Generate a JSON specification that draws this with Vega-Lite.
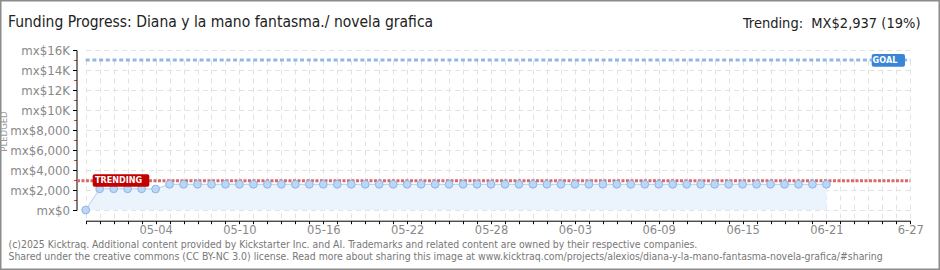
{
  "$schema": "https://vega.github.io/schema/vega-lite/v6.json",
  "width": 940,
  "height": 270,
  "autosize": {"type": "none"},
  "padding": 0,
  "background": "white",
  "config": {"view": {"stroke": "#8c8c8c", "strokeWidth": 3}},
  "title": {
    "text": "Funding Progress: Diana y la mano fantasma./ novela grafica",
    "anchor": "start",
    "frame": "group",
    "orient": "top",
    "offset": -27.5,
    "dx": 8,
    "dy": 15,
    "baseline": "alphabetic",
    "font": "DejaVu Sans Condensed",
    "fontSize": 15.5,
    "fontWeight": "normal",
    "color": "#222222"
  },
  "datasets": {
    "pledges": [
      {"date": "2025-04-29T00:00:00", "pledged": 0},
      {"date": "2025-04-30T00:00:00", "pledged": 2120},
      {"date": "2025-05-01T00:00:00", "pledged": 2120},
      {"date": "2025-05-02T00:00:00", "pledged": 2120},
      {"date": "2025-05-03T00:00:00", "pledged": 2120},
      {"date": "2025-05-04T00:00:00", "pledged": 2100},
      {"date": "2025-05-05T00:00:00", "pledged": 2570},
      {"date": "2025-05-06T00:00:00", "pledged": 2570},
      {"date": "2025-05-07T00:00:00", "pledged": 2570},
      {"date": "2025-05-08T00:00:00", "pledged": 2570},
      {"date": "2025-05-09T00:00:00", "pledged": 2570},
      {"date": "2025-05-10T00:00:00", "pledged": 2570},
      {"date": "2025-05-11T00:00:00", "pledged": 2570},
      {"date": "2025-05-12T00:00:00", "pledged": 2570},
      {"date": "2025-05-13T00:00:00", "pledged": 2570},
      {"date": "2025-05-14T00:00:00", "pledged": 2570},
      {"date": "2025-05-15T00:00:00", "pledged": 2570},
      {"date": "2025-05-16T00:00:00", "pledged": 2570},
      {"date": "2025-05-17T00:00:00", "pledged": 2570},
      {"date": "2025-05-18T00:00:00", "pledged": 2570},
      {"date": "2025-05-19T00:00:00", "pledged": 2570},
      {"date": "2025-05-20T00:00:00", "pledged": 2570},
      {"date": "2025-05-21T00:00:00", "pledged": 2570},
      {"date": "2025-05-22T00:00:00", "pledged": 2570},
      {"date": "2025-05-23T00:00:00", "pledged": 2570},
      {"date": "2025-05-24T00:00:00", "pledged": 2570},
      {"date": "2025-05-25T00:00:00", "pledged": 2570},
      {"date": "2025-05-26T00:00:00", "pledged": 2570},
      {"date": "2025-05-27T00:00:00", "pledged": 2570},
      {"date": "2025-05-28T00:00:00", "pledged": 2570},
      {"date": "2025-05-29T00:00:00", "pledged": 2570},
      {"date": "2025-05-30T00:00:00", "pledged": 2570},
      {"date": "2025-05-31T00:00:00", "pledged": 2570},
      {"date": "2025-06-01T00:00:00", "pledged": 2570},
      {"date": "2025-06-02T00:00:00", "pledged": 2570},
      {"date": "2025-06-03T00:00:00", "pledged": 2570},
      {"date": "2025-06-04T00:00:00", "pledged": 2570},
      {"date": "2025-06-05T00:00:00", "pledged": 2570},
      {"date": "2025-06-06T00:00:00", "pledged": 2570},
      {"date": "2025-06-07T00:00:00", "pledged": 2570},
      {"date": "2025-06-08T00:00:00", "pledged": 2570},
      {"date": "2025-06-09T00:00:00", "pledged": 2570},
      {"date": "2025-06-10T00:00:00", "pledged": 2570},
      {"date": "2025-06-11T00:00:00", "pledged": 2570},
      {"date": "2025-06-12T00:00:00", "pledged": 2570},
      {"date": "2025-06-13T00:00:00", "pledged": 2570},
      {"date": "2025-06-14T00:00:00", "pledged": 2570},
      {"date": "2025-06-15T00:00:00", "pledged": 2570},
      {"date": "2025-06-16T00:00:00", "pledged": 2570},
      {"date": "2025-06-17T00:00:00", "pledged": 2570},
      {"date": "2025-06-18T00:00:00", "pledged": 2570},
      {"date": "2025-06-19T00:00:00", "pledged": 2570},
      {"date": "2025-06-20T00:00:00", "pledged": 2570},
      {"date": "2025-06-21T00:00:00", "pledged": 2570}
    ],
    "refs": [
      {"label": "GOAL", "amount": 15000},
      {"label": "TRENDING", "amount": 2937}
    ]
  },
  "resolve": {"axis": {"x": "independent", "y": "independent"}},
  "layer": [
    {
      "data": {"name": "pledges"},
      "mark": {"type": "area", "color": "#ebf3fd", "opacity": 1},
      "encoding": {
        "x": {
          "field": "date",
          "type": "temporal",
          "scale": {
            "domain": [{"year": 2025, "month": 4, "date": 29}, {"year": 2025, "month": 6, "date": 27}],
            "range": [85.7, 910.3],
            "nice": false
          },
          "axis": {
            "orient": "bottom",
            "offset": -49.3,
            "tickCount": {"interval": "day", "step": 1},
            "labelExpr": "(round((datum.value - datetime(2025, 3, 29)) / 86400000) + 1) % 6 == 0 ? (month(datum.value) == 5 && date(datum.value) == 27 ? '6-27' : timeFormat(datum.value, '%m-%d')) : ''",
            "labelOverlap": false,
            "labelFlush": false,
            "labelFont": "DejaVu Sans",
            "labelFontSize": 11.5,
            "labelColor": "#888888",
            "labelPadding": 1,
            "labelBaseline": "top",
            "tickColor": "#000000",
            "tickSize": 3,
            "domainColor": "#000000",
            "grid": true,
            "gridColor": "#e2e2e2",
            "gridDash": [5, 4],
            "title": [
              "(c)2025 Kicktraq. Additional content provided by Kickstarter Inc. and AI. Trademarks and related content are owned by their respective companies.",
              "Shared under the creative commons (CC BY-NC 3.0) license. Read more about sharing this image at www.kicktraq.com/projects/alexios/diana-y-la-mano-fantasma-novela-grafica/#sharing"
            ],
            "titleAnchor": "start",
            "titleAlign": "left",
            "titleX": 8,
            "titleY": 26.3,
            "titleBaseline": "alphabetic",
            "titleFont": "DejaVu Sans Condensed",
            "titleFontSize": 10.4,
            "titleFontWeight": "normal",
            "titleColor": "#777777",
            "titleLineHeight": 12.5
          }
        },
        "y": {
          "field": "pledged",
          "type": "quantitative",
          "scale": {"domain": [0, 16000], "range": [210, 50], "nice": false, "zero": true},
          "axis": {
            "orient": "left",
            "offset": -76.5,
            "values": [0, 1000, 2000, 3000, 4000, 5000, 6000, 7000, 8000, 9000, 10000, 11000, 12000, 13000, 14000, 15000, 16000],
            "labelExpr": "datum.value % 2000 != 0 ? '' : (datum.value >= 10000 ? 'mx$' + (datum.value / 1000) + 'K' : 'mx$' + format(datum.value, ','))",
            "labelOverlap": false,
            "labelFont": "DejaVu Sans",
            "labelFontSize": 11.8,
            "labelColor": "#888888",
            "labelPadding": 3,
            "tickColor": {"condition": {"test": "datum.value % 2000 != 0", "value": "#e23a3a"}, "value": "#000000"},
            "tickSize": {"condition": {"test": "datum.value % 2000 != 0", "value": 3}, "value": 4},
            "domainColor": "#000000",
            "grid": true,
            "gridColor": "#e2e2e2",
            "gridDash": [5, 4],
            "gridOpacity": {"condition": {"test": "datum.value % 2000 != 0", "value": 0}, "value": 1},
            "title": "PLEDGED",
            "titleX": -72.7,
            "titleY": 131,
            "titleAngle": -90,
            "titleAlign": "center",
            "titleBaseline": "middle",
            "titleFont": "DejaVu Sans",
            "titleFontSize": 8.5,
            "titleFontWeight": "normal",
            "titleColor": "#999999"
          }
        }
      }
    },
    {
      "data": {"name": "pledges"},
      "mark": {"type": "line", "color": "#b3cff0", "strokeWidth": 1},
      "encoding": {
        "x": {"field": "date", "type": "temporal", "axis": null},
        "y": {"field": "pledged", "type": "quantitative", "axis": null}
      }
    },
    {
      "data": {"name": "refs"},
      "transform": [{"filter": "datum.label == 'GOAL'"}],
      "mark": {"type": "rule", "color": "#93b7e2", "strokeWidth": 3, "strokeDash": [4, 2.7]},
      "encoding": {
        "x": {"datum": {"year": 2025, "month": 4, "date": 29}, "type": "temporal", "axis": null},
        "x2": {"datum": {"year": 2025, "month": 6, "date": 27}},
        "y": {"field": "amount", "type": "quantitative", "axis": null}
      }
    },
    {
      "data": {"name": "refs"},
      "transform": [{"filter": "datum.label == 'TRENDING'"}],
      "mark": {"type": "rule", "color": "#d8696b", "strokeWidth": 3, "strokeDash": [3, 1.5]},
      "encoding": {
        "x": {"datum": {"year": 2025, "month": 4, "date": 28, "hours": 9}, "type": "temporal", "axis": null},
        "x2": {"datum": {"year": 2025, "month": 6, "date": 27}},
        "y": {"field": "amount", "type": "quantitative", "axis": null}
      }
    },
    {
      "data": {"name": "pledges"},
      "mark": {"type": "point", "shape": "circle", "filled": true, "fill": "#bcd6f5", "stroke": "#8eb4e2", "strokeWidth": 1, "size": 60, "opacity": 1},
      "encoding": {
        "x": {
          "field": "date",
          "type": "temporal",
          "axis": {
            "orient": "top",
            "domain": false,
            "ticks": false,
            "labels": false,
            "grid": false,
            "title": "Trending:\u00a0\u00a0MX$2,937 (19%)",
            "titleAnchor": "end",
            "titleAlign": "right",
            "titleX": 920,
            "titleY": 27.5,
            "titleBaseline": "alphabetic",
            "titleFont": "DejaVu Sans Condensed",
            "titleFontSize": 14.5,
            "titleFontWeight": "normal",
            "titleColor": "#222222"
          }
        },
        "y": {"field": "pledged", "type": "quantitative", "axis": null}
      }
    },
    {
      "data": {"name": "refs"},
      "transform": [{"filter": "datum.label == 'GOAL'"}],
      "mark": {"type": "rect", "color": "#3a86d6", "cornerRadius": 2},
      "encoding": {
        "x": {"datum": {"year": 2025, "month": 6, "date": 24, "hours": 5, "minutes": 45}, "type": "temporal", "axis": null},
        "x2": {"datum": {"year": 2025, "month": 6, "date": 26, "hours": 14, "minutes": 53}},
        "y": {"datum": 15600, "type": "quantitative", "axis": null},
        "y2": {"datum": 14330}
      }
    },
    {
      "data": {"name": "refs"},
      "transform": [{"filter": "datum.label == 'GOAL'"}],
      "mark": {"type": "text", "color": "white", "font": "DejaVu Sans Condensed", "fontWeight": "bold", "fontSize": 9, "align": "center", "baseline": "middle"},
      "encoding": {
        "x": {"datum": {"year": 2025, "month": 6, "date": 25, "hours": 4, "minutes": 30}, "type": "temporal", "axis": null},
        "y": {"datum": 14965, "type": "quantitative", "axis": null},
        "text": {"field": "label"}
      }
    },
    {
      "data": {"name": "refs"},
      "transform": [{"filter": "datum.label == 'TRENDING'"}],
      "mark": {"type": "rect", "color": "#c20000", "cornerRadius": 2},
      "encoding": {
        "x": {"datum": {"year": 2025, "month": 4, "date": 29, "hours": 12}, "type": "temporal", "axis": null},
        "x2": {"datum": {"year": 2025, "month": 5, "date": 3, "hours": 13, "minutes": 12}},
        "y": {"datum": 3570, "type": "quantitative", "axis": null},
        "y2": {"datum": 2330}
      }
    },
    {
      "data": {"name": "refs"},
      "transform": [{"filter": "datum.label == 'TRENDING'"}],
      "mark": {"type": "text", "color": "white", "font": "DejaVu Sans Condensed", "fontWeight": "bold", "fontSize": 9, "align": "center", "baseline": "middle"},
      "encoding": {
        "x": {"datum": {"year": 2025, "month": 5, "date": 1, "hours": 8, "minutes": 24}, "type": "temporal", "axis": null},
        "y": {"datum": 2960, "type": "quantitative", "axis": null},
        "text": {"field": "label"}
      }
    }
  ]
}
